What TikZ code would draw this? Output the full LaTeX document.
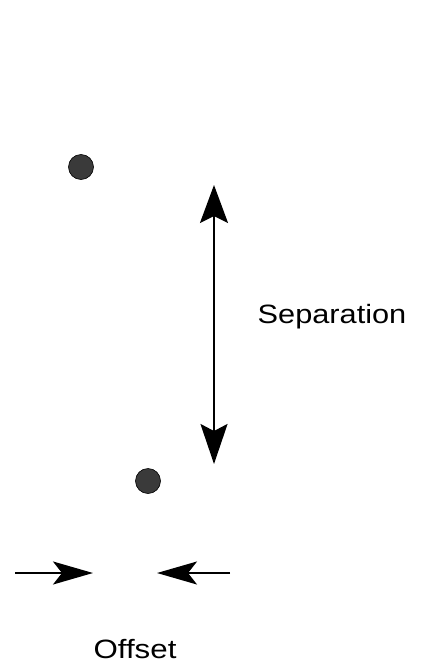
\documentclass[tikz,border=0pt]{standalone}
\usepackage{fontspec}
\setmainfont{Liberation Sans}
\usetikzlibrary{arrows.meta}
\definecolor{dotgray}{HTML}{3A3A3A}
\tikzset{
  dot/.style={circle,fill=dotgray,draw=black,line width=0.6pt,minimum size=25pt,inner sep=0pt},
  lbl/.style={font=\fontsize{26.5}{30}\selectfont,inner sep=0pt,anchor=base},
  hararrow/.style={line width=2pt,-{Stealth[length=40pt,width=23pt,inset=9pt]}}
}
\begin{document}
\begin{tikzpicture}[x=1pt,y=-1pt]
\useasboundingbox (0,0) rectangle (425,669);
\node[dot] (d1) at (81,167) {};
\node[dot] (d2) at (148,481) {};
\coordinate (vt) at (214,185);
\coordinate (vb) at (214,464);
\draw[line width=2pt,{Stealth[length=38pt,width=28pt,inset=7pt]}-{Stealth[length=40pt,width=27pt,inset=7pt]}] (vt) -- (vb);
\node[lbl] (sep) at (332,323) {\scalebox{1.16}[1]{Separation}};
\coordinate (la) at (15,573);
\coordinate (lb) at (93,573);
\coordinate (ra) at (230,573);
\coordinate (rb) at (157,573);
\draw[hararrow] (la) -- (lb);
\draw[hararrow] (ra) -- (rb);
\node[lbl] (off) at (135,658) {\scalebox{1.18}[1]{Offset}};
\end{tikzpicture}
\end{document}
